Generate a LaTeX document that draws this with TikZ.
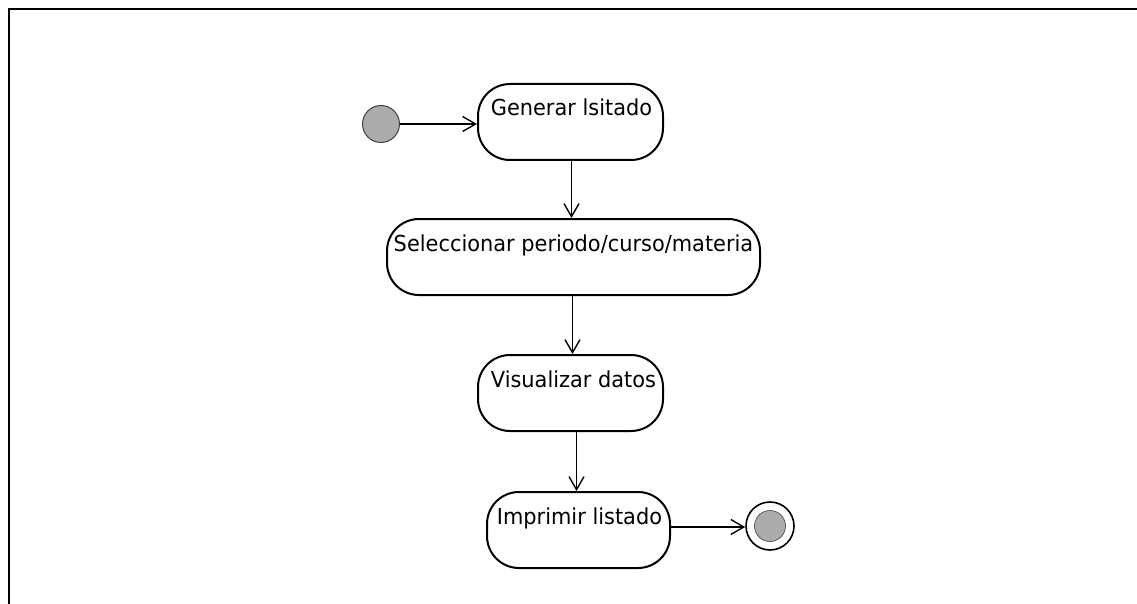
\documentclass[tikz,border=0pt]{standalone}
\usepackage{fontspec}
\setmainfont{DejaVu Sans}[FakeStretch=0.95]
\usetikzlibrary{arrows.meta,calc}
\begin{document}
\begin{tikzpicture}[x=1pt,y=-1pt,
  activity/.style={draw=black, line width=2pt, rounded corners=32pt,
    minimum width=#1, minimum height=76pt, inner sep=0pt},
  caption/.style={anchor=base, font=\fontsize{22}{26}\selectfont, inner sep=0pt},
  flow/.style={draw=black, line width=1.4pt,
    -{Straight Barb[length=13pt, width=15pt, line width=1.4pt]}},
  frame/.style={draw=black, line width=2.6pt}]
  \useasboundingbox (0,0) rectangle (1137,604);
  % outer frame (top and left edges)
  \coordinate (tl) at (9,9);
  \coordinate (tr) at (1137,9);
  \coordinate (bl) at (9,604);
  \draw[frame] (tr) -- (tl) -- (bl);

  % start and end states
  \node[circle, draw=gray!50!black, fill=gray!65, line width=1pt,
        minimum size=37pt, inner sep=0pt] (start) at (381,124) {};
  \node[circle, draw=black, line width=1.6pt, fill=white,
        minimum size=48pt, inner sep=0pt] (finish) at (770,526) {};
  \node[circle, fill=gray!65, draw=gray!50!black, line width=0.6pt,
        minimum size=31pt, inner sep=0pt] (finishdot) at (finish) {};

  % activities
  \node[activity=185pt] (gen) at (570.5,122) {};
  \node[activity=373pt] (sel) at (573.5,257) {};
  \node[activity=185pt] (vis) at (570.5,393) {};
  \node[activity=183pt] (imp) at (578.5,530) {};

  \node[caption] (gentxt) at ($(gen.north)+(1,33)$) {Generar lsitado};
  \node[caption] (seltxt) at ($(sel.north)+(0,33)$) {Seleccionar periodo/curso/materia};
  \node[caption] (vistxt) at ($(vis.north)+(3,33)$) {Visualizar datos};
  \node[caption] (imptxt) at ($(imp.north)+(1,33)$) {Imprimir listado};

  % transitions
  \draw[flow] (start) -- (gen.west |- start);
  \draw[flow] (gen.south) ++(1,0) coordinate (g1) -- (g1 |- sel.north);
  \draw[flow] (sel.south) ++(-1,0) coordinate (s1) -- (s1 |- vis.north);
  \draw[flow] (vis.south -| imp.north) ++(-2,0) coordinate (v1) -- (v1 |- imp.north);
  \draw[flow] (imp.east) ++(0,-3) coordinate (i1) -- (finish.west |- i1);
\end{tikzpicture}
\end{document}
